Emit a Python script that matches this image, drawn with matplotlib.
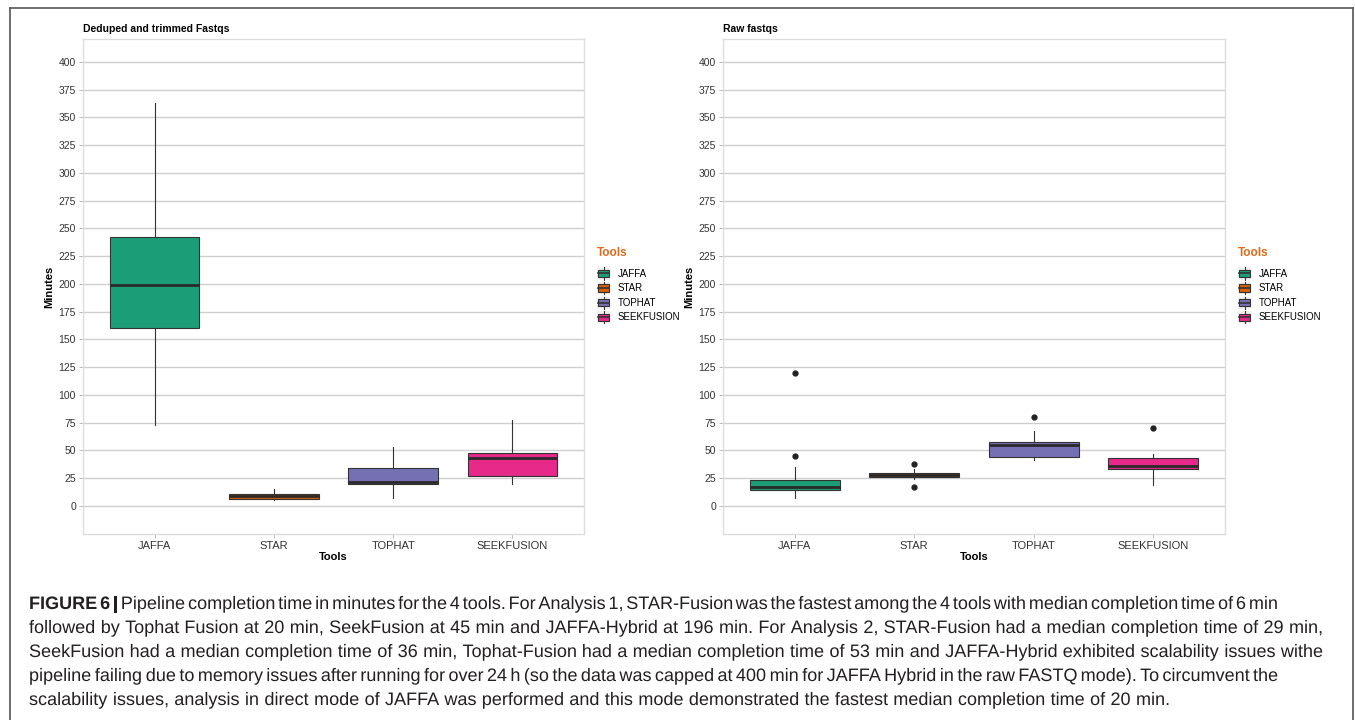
import numpy as np
import matplotlib
matplotlib.use("Agg")
import matplotlib.pyplot as plt
import matplotlib.patheffects as pe
from matplotlib.patches import Rectangle, Patch
from matplotlib.lines import Line2D
from matplotlib.legend_handler import HandlerBase

plt.rcParams['font.family'] = 'Liberation Sans'

tools = ['JAFFA', 'STAR', 'TOPHAT', 'SEEKFUSION']
tool_colors = ['#1B9E77', '#D95F02', '#7570B3', '#E7298A']
yticks = list(range(0, 401, 25))

# deduped and trimmed fastqs
dd_lo = [73, 5, 7, 20]
dd_q1 = [160, 6, 19.6, 27]
dd_med = [199, 8.7, 21.5, 42.8]
dd_q3 = [241.8, 11, 34.4, 48]
dd_hi = [363, 15, 53, 77]
dd_out = [[], [], [], []]

# raw fastqs
raw_lo = [7, 24, 41, 19]
raw_q1 = [14, 26, 44, 33]
raw_med = [17.4, 28, 55, 36]
raw_q3 = [23, 30, 58, 43]
raw_hi = [35, 33, 67.5, 46.6]
raw_out = [[120, 45], [38, 17], [80], [70]]

caption_lines = [
    "FIGURE 6 | Pipeline completion time in minutes for the 4 tools. For Analysis 1, STAR-Fusion was the fastest among the 4 tools with median completion time of 6 min",
    "followed by Tophat Fusion at 20 min, SeekFusion at 45 min and JAFFA-Hybrid at 196 min. For Analysis 2, STAR-Fusion had a median completion time of 29 min,",
    "SeekFusion had a median completion time of 36 min, Tophat-Fusion had a median completion time of 53 min and JAFFA-Hybrid exhibited scalability issues withe",
    "pipeline failing due to memory issues after running for over 24 h (so the data was capped at 400 min for JAFFA Hybrid in the raw FASTQ mode). To circumvent the",
    "scalability issues, analysis in direct mode of JAFFA was performed and this mode demonstrated the fastest median completion time of 20 min.",
]
caption_right = [1278, 1323, 1323, 1278, 1170]

W, H = 1355, 720
fig = plt.figure(figsize=(W / 100, H / 100), dpi=100)


def px_axes(x0, y0, x1, y1):
    return fig.add_axes([x0 / W, 1 - y1 / H, (x1 - x0) / W, (y1 - y0) / H])


class BoxKey(HandlerBase):
    def create_artists(self, legend, orig_handle, xd, yd, width, height, fontsize, trans):
        x0, y0 = -xd, -yd
        bg = Rectangle((x0, y0), width, height, fc='#F0F0F0', ec='none', transform=trans)
        cx = x0 + width / 2
        wl = Line2D([cx, cx], [y0, y0 + height], color='#333333', lw=0.8, transform=trans)
        box = Rectangle((x0 + 0.1 * width, y0 + 0.2 * height), 0.8 * width, 0.6 * height,
                        fc=orig_handle.get_facecolor(), ec='#333333', lw=0.8, transform=trans)
        med = Line2D([x0 + 0.1 * width, x0 + 0.9 * width], [y0 + height / 2] * 2,
                     color='#333333', lw=1.2, transform=trans)
        return [bg, wl, box, med]


def panel(x0, x1, title, lo, q1, med, q3, hi, out):
    ax = px_axes(x0, 39.3, x1, 534)
    stats = []
    for i in range(len(tools)):
        stats.append(dict(whislo=lo[i], q1=q1[i], med=med[i], q3=q3[i], whishi=hi[i], fliers=out[i]))
    bp = ax.bxp(stats, positions=np.arange(len(tools)), widths=0.75, patch_artist=True,
                showcaps=False,
                boxprops=dict(edgecolor='#333333', linewidth=0.8),
                medianprops=dict(color='#2A2A2A', linewidth=2.0),
                whiskerprops=dict(color='#333333', linewidth=0.8),
                flierprops=dict(marker='o', markersize=3.5, markerfacecolor='#222222',
                                markeredgecolor='#222222'))
    for b, c in zip(bp['boxes'], tool_colors):
        b.set_facecolor(c)
    ax.set_xlim(-0.6, len(tools) - 0.4)
    ax.set_ylim(-25.25, 420.25)
    ax.set_yticks(yticks)
    ax.set_xticks(np.arange(len(tools)))
    ax.set_xticklabels(tools)
    ax.yaxis.grid(True, color='#CFCFCF', lw=1.0)
    ax.set_axisbelow(True)
    for s in ax.spines.values():
        s.set_color('#DDDDDD')
        s.set_linewidth(1.0)
    ax.tick_params(axis='both', length=3, width=0.6, color='#B0B0B0', labelsize=7.5,
                   labelcolor='#333333', pad=2)
    ax.tick_params(axis='x', labelsize=8)
    ax.set_xlabel('Tools', fontsize=8, fontweight='bold', labelpad=1)
    ax.set_ylabel('Minutes', fontsize=8, fontweight='bold', labelpad=3)
    ax.set_title(title, fontsize=7.5, fontweight='bold', loc='left', pad=5)
    handles = [Patch(facecolor=c, label=t) for c, t in zip(tool_colors, tools)]
    leg = ax.legend(handles=handles, title='Tools', loc='upper left',
                    bbox_to_anchor=((x1 + 13) / W, 1 - 247 / H), bbox_transform=fig.transFigure,
                    frameon=False, fontsize=7, handler_map={Patch: BoxKey()},
                    handlelength=1.35, handleheight=1.55, labelspacing=0.25,
                    handletextpad=0.75, borderpad=0, borderaxespad=0)
    leg.get_title().set_color('#E0691A')
    leg.get_title().set_fontweight('bold')
    leg.get_title().set_fontsize(8.5)
    leg._legend_box.align = 'left'
    leg._legend_box.sep = 6
    return ax


panel(83, 584, 'Deduped and trimmed Fastqs', dd_lo, dd_q1, dd_med, dd_q3, dd_hi, dd_out)
panel(723, 1225, 'Raw fastqs', raw_lo, raw_q1, raw_med, raw_q3, raw_hi, raw_out)

# outer frame
fc = '#555555'
fig.add_artist(Line2D([10 / W, 10 / W], [0, 1 - 8 / H], color=fc, lw=1.2, transform=fig.transFigure))
fig.add_artist(Line2D([1353 / W, 1353 / W], [0, 1 - 8 / H], color=fc, lw=1.2, transform=fig.transFigure))
fig.add_artist(Line2D([10 / W, 1353 / W], [1 - 8 / H, 1 - 8 / H], color=fc, lw=1.2, transform=fig.transFigure))

# caption, spread word by word to the line ends of the reference
# (drawn through a path effect so every word sits on the same baseline)
renderer = fig.canvas.get_renderer()
for i, line in enumerate(caption_lines):
    y = 609 + i * 24
    words = line.split(' ')
    texts = []
    for k, w in enumerate(words):
        bold = (i == 0 and k < 3)
        texts.append(fig.text(0, 1 - y / H, w, fontsize=13, va='baseline', ha='left',
                              color='#231F20', fontweight='bold' if bold else 'normal',
                              path_effects=[pe.Normal()]))
    widths = [t.get_window_extent(renderer).width for t in texts]
    gap = (caption_right[i] - 29 - sum(widths)) / (len(words) - 1)
    gap = max(gap, 2.5)
    x = 29
    for t, w in zip(texts, widths):
        t.set_x(x / W)
        x += w + gap

fig.savefig('out.png', dpi=100)
